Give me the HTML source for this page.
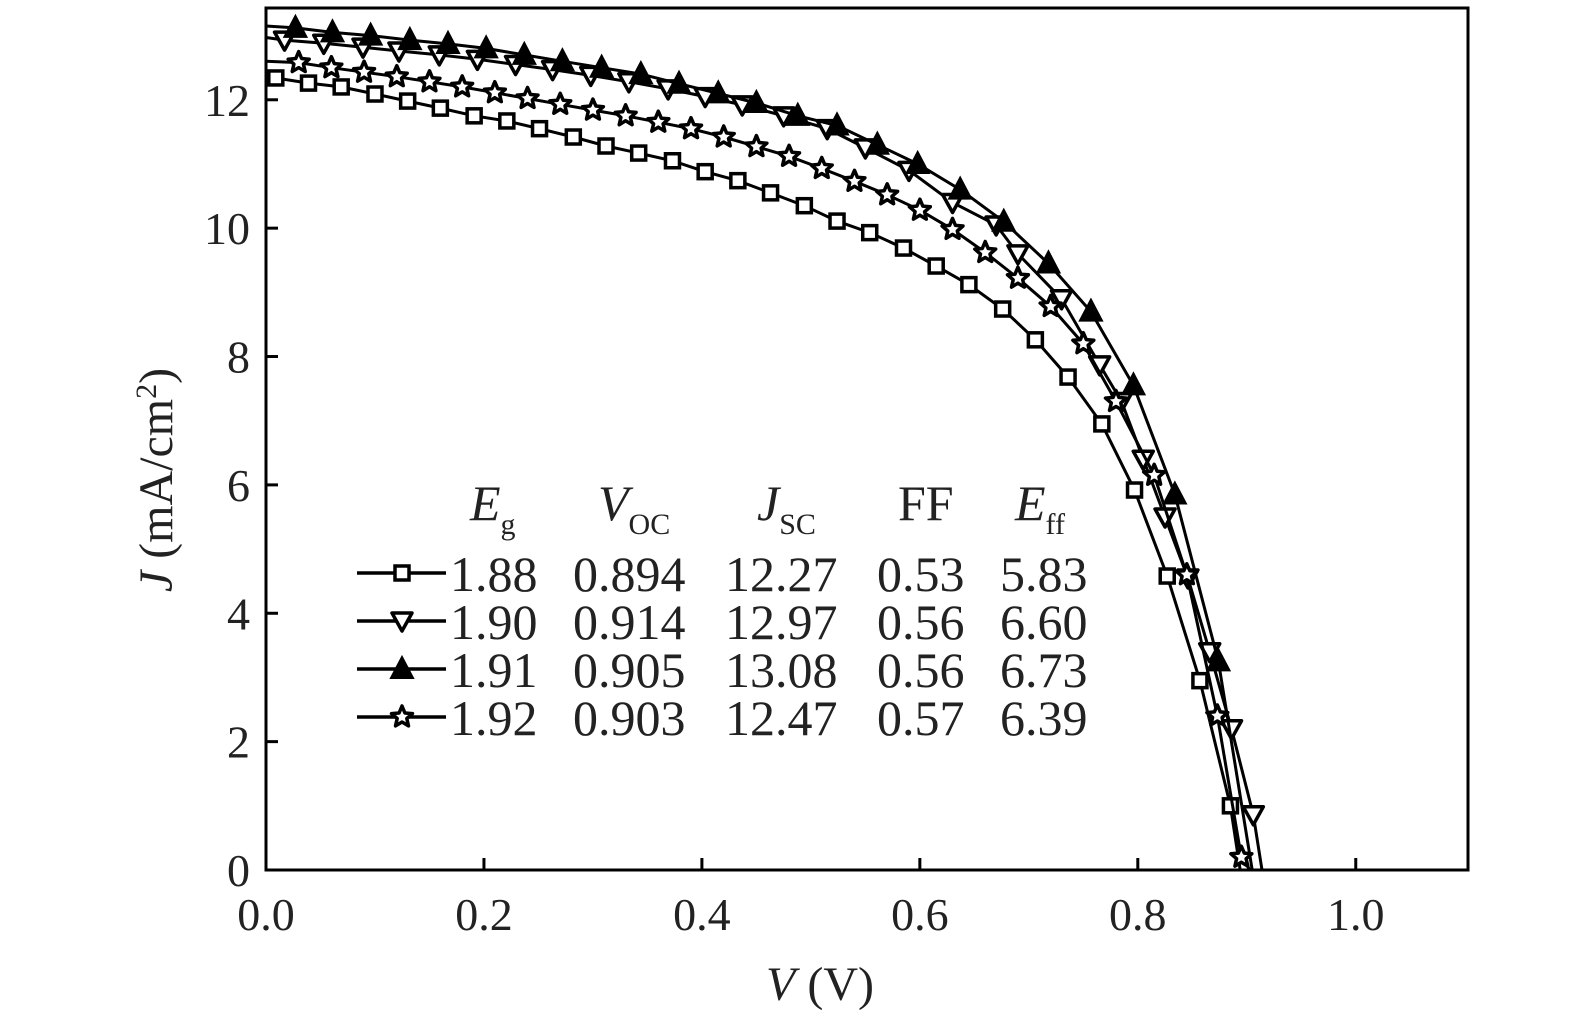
<!DOCTYPE html>
<html><head><meta charset="utf-8"><style>
html,body{margin:0;padding:0;background:#fff}
svg{display:block;font-family:"Liberation Serif",serif}
</style></head><body>
<svg id="chart" width="1575" height="1024" viewBox="0 0 1575 1024" xmlns="http://www.w3.org/2000/svg">
<g id="plot"></g>
</svg>
<script>
const xTicks=[0,0.2,0.4,0.6,0.8,1.0];
const xTickLabels=["0.0","0.2","0.4","0.6","0.8","1.0"];
const yTicks=[0,2,4,6,8,10,12];
const yTickLabels=["0","2","4","6","8","10","12"];
const sqV=[0,0.009,0.039,0.069,0.1,0.13,0.16,0.191,0.221,0.251,0.282,0.312,0.342,0.373,0.403,0.433,0.463,0.494,0.524,0.554,0.585,0.615,0.645,0.676,0.706,0.736,0.767,0.797,0.827,0.857,0.885,0.894];
const sqJ=[12.36,12.34,12.26,12.2,12.09,11.98,11.87,11.75,11.67,11.55,11.42,11.28,11.17,11.05,10.88,10.74,10.55,10.35,10.11,9.93,9.69,9.41,9.12,8.74,8.26,7.68,6.95,5.92,4.58,2.95,1.0,0];
const dnV=[0,0.017,0.053,0.089,0.122,0.159,0.194,0.229,0.263,0.298,0.333,0.369,0.403,0.437,0.475,0.515,0.55,0.59,0.63,0.67,0.69,0.73,0.765,0.785,0.805,0.825,0.846,0.866,0.886,0.906,0.914];
const dnJ=[12.97,12.93,12.88,12.82,12.76,12.7,12.63,12.55,12.47,12.38,12.28,12.17,12.05,11.92,11.75,11.55,11.25,10.9,10.4,10.05,9.6,8.9,7.87,7.3,6.4,5.5,4.55,3.4,2.2,0.86,0];
const upV=[0,0.027,0.061,0.096,0.132,0.167,0.202,0.237,0.272,0.308,0.344,0.379,0.415,0.45,0.488,0.524,0.561,0.598,0.637,0.677,0.718,0.757,0.796,0.834,0.874,0.905];
const upJ=[13.15,13.12,13.05,13.0,12.93,12.87,12.8,12.7,12.6,12.5,12.4,12.25,12.1,11.95,11.75,11.6,11.3,11.0,10.6,10.1,9.45,8.7,7.55,5.85,3.25,0];
const stV=[0,0.03,0.06,0.09,0.12,0.15,0.18,0.21,0.24,0.27,0.30,0.33,0.36,0.39,0.42,0.45,0.48,0.51,0.54,0.57,0.60,0.63,0.66,0.69,0.72,0.75,0.78,0.815,0.845,0.873,0.895,0.903];
const stJ=[12.6,12.58,12.5,12.43,12.36,12.28,12.2,12.11,12.02,11.93,11.84,11.75,11.65,11.55,11.42,11.27,11.12,10.93,10.73,10.52,10.28,9.98,9.62,9.22,8.78,8.2,7.3,6.15,4.6,2.4,0.2,0];
const legLabels=[["1.88","0.894","12.27","0.53","5.83"],["1.90","0.914","12.97","0.56","6.60"],["1.91","0.905","13.08","0.56","6.73"],["1.92","0.903","12.47","0.57","6.39"]];

const L=266,R=1468,T=8,B=870,XMAX=1.103,YMAX=13.43;
const X=v=>L+v/XMAX*(R-L);
const Y=j=>B-j/YMAX*(B-T);
const NS="http://www.w3.org/2000/svg";
const svg=document.getElementById('chart');
function mk(tag,attrs,parent){const e=document.createElementNS(NS,tag);for(const k in attrs)e.setAttribute(k,attrs[k]);(parent||svg).appendChild(e);return e;}

function marker(kind,cx,cy,parent){
  let e;
  if(kind==='sq'){e=mk('rect',{x:cx-7,y:cy-7,width:14,height:14,fill:'#fff',stroke:'#000','stroke-width':3.5},parent);}
  else if(kind==='dn'){e=mk('polygon',{points:`${cx-10},${cy-8} ${cx+10},${cy-8} ${cx},${cy+10}`,fill:'#fff',stroke:'#000','stroke-width':3.5,'stroke-linejoin':'round'},parent);}
  else if(kind==='up'){e=mk('polygon',{points:`${cx-11},${cy+9} ${cx+11},${cy+9} ${cx},${cy-12}`,fill:'#000',stroke:'#000','stroke-width':2},parent);}
  else {let p=[];for(let i=0;i<10;i++){const r=i%2?5:11;const a=-Math.PI/2+i*Math.PI/5;p.push((cx+r*Math.cos(a)).toFixed(1)+','+(cy+r*Math.sin(a)).toFixed(1));}
    e=mk('polygon',{points:p.join(' '),fill:'#fff',stroke:'#000','stroke-width':3.5,'stroke-linejoin':'round'},parent);}
  return e;
}

const series=[['sq',sqV,sqJ,'series-1-88'],['dn',dnV,dnJ,'series-1-90'],['up',upV,upJ,'series-1-91'],['st',stV,stJ,'series-1-92']];
series.forEach(([k,V,J,name])=>{
  const g=mk('g',{});
  
  
  const pts=V.map((v,i)=>X(v).toFixed(1)+','+Y(J[i]).toFixed(1)).join(' ');
  const pl=mk('polyline',{points:pts,fill:'none',stroke:'#000','stroke-width':3},g);
  
  
  V.forEach((v,i)=>{
    if(i===0||i===V.length-1)return;
    const m=marker(k,X(v),Y(J[i]),g);
    
    
  });
});

// axes frame
const fr=mk('rect',{x:L,y:T,width:R-L,height:B-T,fill:'none',stroke:'#000','stroke-width':3});


xTicks.forEach((v,i)=>{
  const t=mk('line',{x1:X(v),x2:X(v),y1:B,y2:B-12,stroke:'#000','stroke-width':3});
  
  
  const tx=mk('text',{x:X(v),y:930,'font-size':46,'text-anchor':'middle',fill:'#222'});
  tx.textContent=xTickLabels[i];
  
  
});
yTicks.forEach((j,i)=>{
  const t=mk('line',{x1:L,x2:L+12,y1:Y(j),y2:Y(j),stroke:'#000','stroke-width':3});
  
  
  const tx=mk('text',{x:250,y:Y(j)+16,'font-size':46,'text-anchor':'end',fill:'#222'});
  tx.textContent=yTickLabels[i];
  
  
});
</script>
<svg style="position:absolute;left:0;top:0" width="1575" height="1024" xmlns="http://www.w3.org/2000/svg" font-family="Liberation Serif, serif">
<text x="820" y="1000" font-size="48" text-anchor="middle" fill="#222"><tspan font-style="italic">V</tspan> (V)</text>
<text transform="translate(172,480) rotate(-90)" font-size="48" text-anchor="middle" fill="#222"><tspan font-style="italic">J</tspan> (mA/cm<tspan font-size="30" dy="-16">2</tspan><tspan dy="16">)</tspan></text>
<g font-size="50" fill="#222">
<text x="470" y="520"><tspan font-style="italic">E</tspan><tspan font-size="30" dy="14">g</tspan></text>
<text x="598" y="520"><tspan font-style="italic">V</tspan><tspan font-size="30" dy="14">OC</tspan></text>
<text x="757" y="520"><tspan font-style="italic">J</tspan><tspan font-size="30" dy="14">SC</tspan></text>
<text x="898" y="520">FF</text>
<text x="1015" y="520"><tspan font-style="italic">E</tspan><tspan font-size="30" dy="14">ff</tspan></text>
</g>
</svg>
<script>
(function(){
  const svgs=document.querySelectorAll('svg');
  const s=svgs[1];
  const NS="http://www.w3.org/2000/svg";
  const lg=s.querySelector('g');
  const cols=[450,573,725,877,1000];
  const kinds=['sq','dn','up','st'];
  legLabels.forEach((row,r)=>{
    const y=573+r*48;
    const ln=document.createElementNS(NS,'line');
    ln.setAttribute('x1',357);ln.setAttribute('x2',446);ln.setAttribute('y1',y);ln.setAttribute('y2',y);
    ln.setAttribute('stroke','#000');ln.setAttribute('stroke-width',3.5);
    
    
    lg.appendChild(ln);
    const m=marker(kinds[r],402,y,lg);
    
    
    row.forEach((txt,c)=>{
      const t=document.createElementNS(NS,'text');
      t.setAttribute('x',cols[c]);t.setAttribute('y',y+18);
      t.textContent=txt;
      
      
      lg.appendChild(t);
    });
  });
})();
</script>
</body></html>
